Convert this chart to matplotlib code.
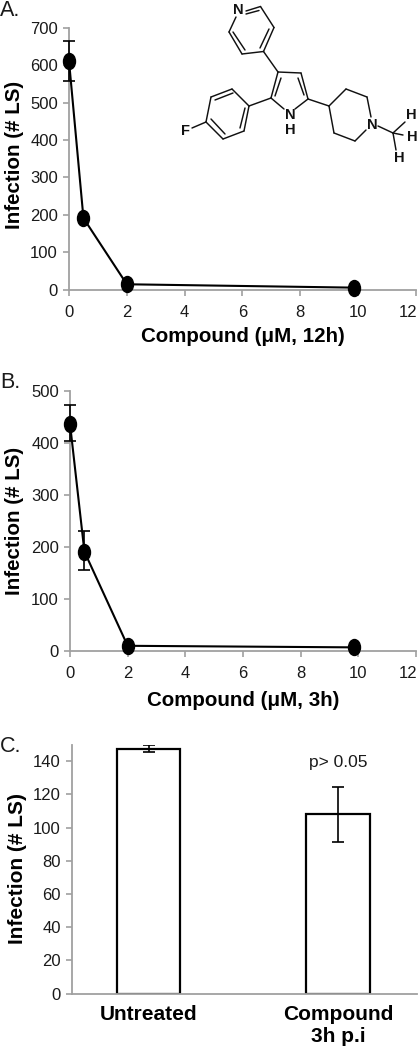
import matplotlib
matplotlib.use('Agg')
import matplotlib.pyplot as plt
from matplotlib.markers import MarkerStyle
from matplotlib.transforms import Affine2D, ScaledTranslation

plt.rcParams['font.family'] = ['Liberation Sans', 'DejaVu Sans']

W, H = 420, 1048

# panel A
conc_a = [0, 0.5, 2, 9.85]
inf_a = [612, 191, 14, 5]
err_up_a = [54, 0, 0, 0]
err_low_a = [54, 0, 0, 0]

# panel B
conc_b = [0, 0.5, 2, 9.85]
inf_b = [437, 191, 10, 7]
err_up_b = [36, 40, 0, 0]
err_low_b = [34, 35, 0, 0]

# panel C
categories = ['Untreated', 'Compound\n3h p.i']
inf_c = [147.5, 108]
err_c = [2.2, 16.5]

xticks_ab = [0, 2, 4, 6, 8, 10, 12]
yticks_a = [0, 100, 200, 300, 400, 500, 600, 700]
yticks_b = [0, 100, 200, 300, 400, 500]
yticks_c = [0, 20, 40, 60, 80, 100, 120, 140]

# molecule, in pixels of the picture
bonds = [
    # pyridine
    (246, 11, 260.5, 6.5), (260.5, 6.5, 274, 27.5), (274, 27.5, 263.5, 51.5), (263.5, 51.5, 242, 54),
    (242, 54, 229, 32), (229, 32, 236, 17),
    (246, 14, 259, 10.5), (269, 29, 260, 48), (245, 50, 233, 32),
    # pyridine to pyrrole
    (263.5, 51.5, 278, 72),
    # pyrrole
    (278, 72, 301, 73), (301, 73, 308, 99), (308, 99, 295, 109), (284, 109, 271, 98), (271, 98, 278, 72),
    (281, 78, 275, 96), (298, 78, 304, 95),
    # fluorophenyl
    (271, 98, 249, 106), (249, 106, 232, 89), (232, 89, 211, 97), (211, 97, 206, 122),
    (206, 122, 223, 139), (223, 139, 244, 131), (244, 131, 249, 106),
    (233, 93, 215, 100), (211, 119, 225, 134), (240, 128, 245, 108),
    (206, 122, 192, 128),
    # piperidine
    (308, 99, 329, 106), (329, 106, 346, 89), (346, 89, 367, 97), (367, 97, 371, 117),
    (366, 130, 355, 141), (355, 141, 334, 133), (334, 133, 329, 106),
    # methyl
    (378, 126, 393, 133), (393, 133, 405, 122), (393, 133, 403, 135), (393, 133, 396, 150),
]
atoms = [
    ('N', 238, 10), ('N', 290, 115), ('H', 290, 130), ('F', 185, 131),
    ('N', 372, 125), ('H', 411, 115), ('H', 412, 137), ('H', 399, 158),
]


def place(fig, left, right, top, bottom):
    return fig.add_axes([left / W, 1 - bottom / H, (right - left) / W, (bottom - top) / H])


def style(ax):
    ax.spines['top'].set_visible(False)
    ax.spines['right'].set_visible(False)
    for s in ['left', 'bottom']:
        ax.spines[s].set_color('#a0a0a0')
        ax.spines[s].set_linewidth(1.3)
    ax.tick_params(color='#a0a0a0', width=1.2, length=4, labelsize=12, labelcolor='#1a1a1a')
    ax.tick_params(axis='y', pad=4)


def line_panel(ax, x, y, low, up, yticks, xlabel, xpad):
    oval = MarkerStyle('o', transform=Affine2D().scale(0.75, 1))
    ax.errorbar(x, y, yerr=[low, up], color='black', lw=1.5, capsize=4, capthick=1.2,
                elinewidth=1.2, marker=oval, ms=11.5, mfc='black', mec='black', clip_on=False, zorder=5)
    ax.set_xlim(0, 12)
    ax.set_ylim(0, yticks[-1])
    ax.set_xticks(xticks_ab)
    ax.set_yticks(yticks)
    style(ax)
    ax.tick_params(axis='x', pad=7)
    # the last label stays inside the picture
    last = ax.get_xticklabels()[-1]
    last.set_transform(last.get_transform() + ScaledTranslation(-6 / 72, 0, fig.dpi_scale_trans))
    ax.set_xlabel(xlabel, fontsize=14.8, fontweight='bold', labelpad=xpad)
    ax.set_ylabel('Infection (# LS)', fontsize=14.8, fontweight='bold')


fig = plt.figure(figsize=(W / 100, H / 100), dpi=100)

ax_a = place(fig, 69, 416, 28, 289.5)
line_panel(ax_a, conc_a, inf_a, err_low_a, err_up_a, yticks_a, 'Compound (μM, 12h)', 5)
ax_a.yaxis.set_label_coords(-0.13, 0.515)

ax_b = place(fig, 70, 416, 391, 651)
line_panel(ax_b, conc_b, inf_b, err_low_b, err_up_b, yticks_b, 'Compound (μM, 3h)', 7)
ax_b.yaxis.set_label_coords(-0.133, 0.5)

ax_c = place(fig, 72, 417, 744.5, 993.5)
ax_c.bar([0, 1], inf_c, width=0.336, color='white', edgecolor='black', linewidth=1.6,
         yerr=err_c, ecolor='black', error_kw={'elinewidth': 1.2, 'capsize': 4, 'capthick': 1.2})
ax_c.set_xlim(-0.404, 1.417)
ax_c.set_ylim(0, 150)
ax_c.set_yticks(yticks_c)
ax_c.set_xticks([0, 1])
style(ax_c)
ax_c.set_xticklabels(categories, fontsize=15, fontweight='bold', color='black', linespacing=1.2)
ax_c.tick_params(axis='x', length=0, pad=8)
ax_c.set_ylabel('Infection (# LS)', fontsize=15, fontweight='bold')
ax_c.yaxis.set_label_coords(-0.13, 0.5)
ax_c.text(1, 139, 'p> 0.05', ha='center', va='center', fontsize=12.5, color='#1a1a1a')

# overlay in picture pixels for the panel letters and the molecule
over = fig.add_axes([0, 0, 1, 1])
over.set_xlim(0, W)
over.set_ylim(H, 0)
over.axis('off')
for x0, y0, x1, y1 in bonds:
    over.plot([x0, x1], [y0, y1], color='#111111', lw=1.05, solid_capstyle='round')
for label, x, y in atoms:
    over.text(x, y, label, ha='center', va='center', fontsize=10.5, fontweight='bold', color='#111111')
over.text(0, 10, 'A.', fontsize=15.5, ha='left', va='center', color='#1a1a1a')
over.text(0, 383, 'B.', fontsize=15.5, ha='left', va='center', color='#1a1a1a')
over.text(0, 747, 'C.', fontsize=15.5, ha='left', va='center', color='#1a1a1a')

fig.savefig('out.png', dpi=100)
